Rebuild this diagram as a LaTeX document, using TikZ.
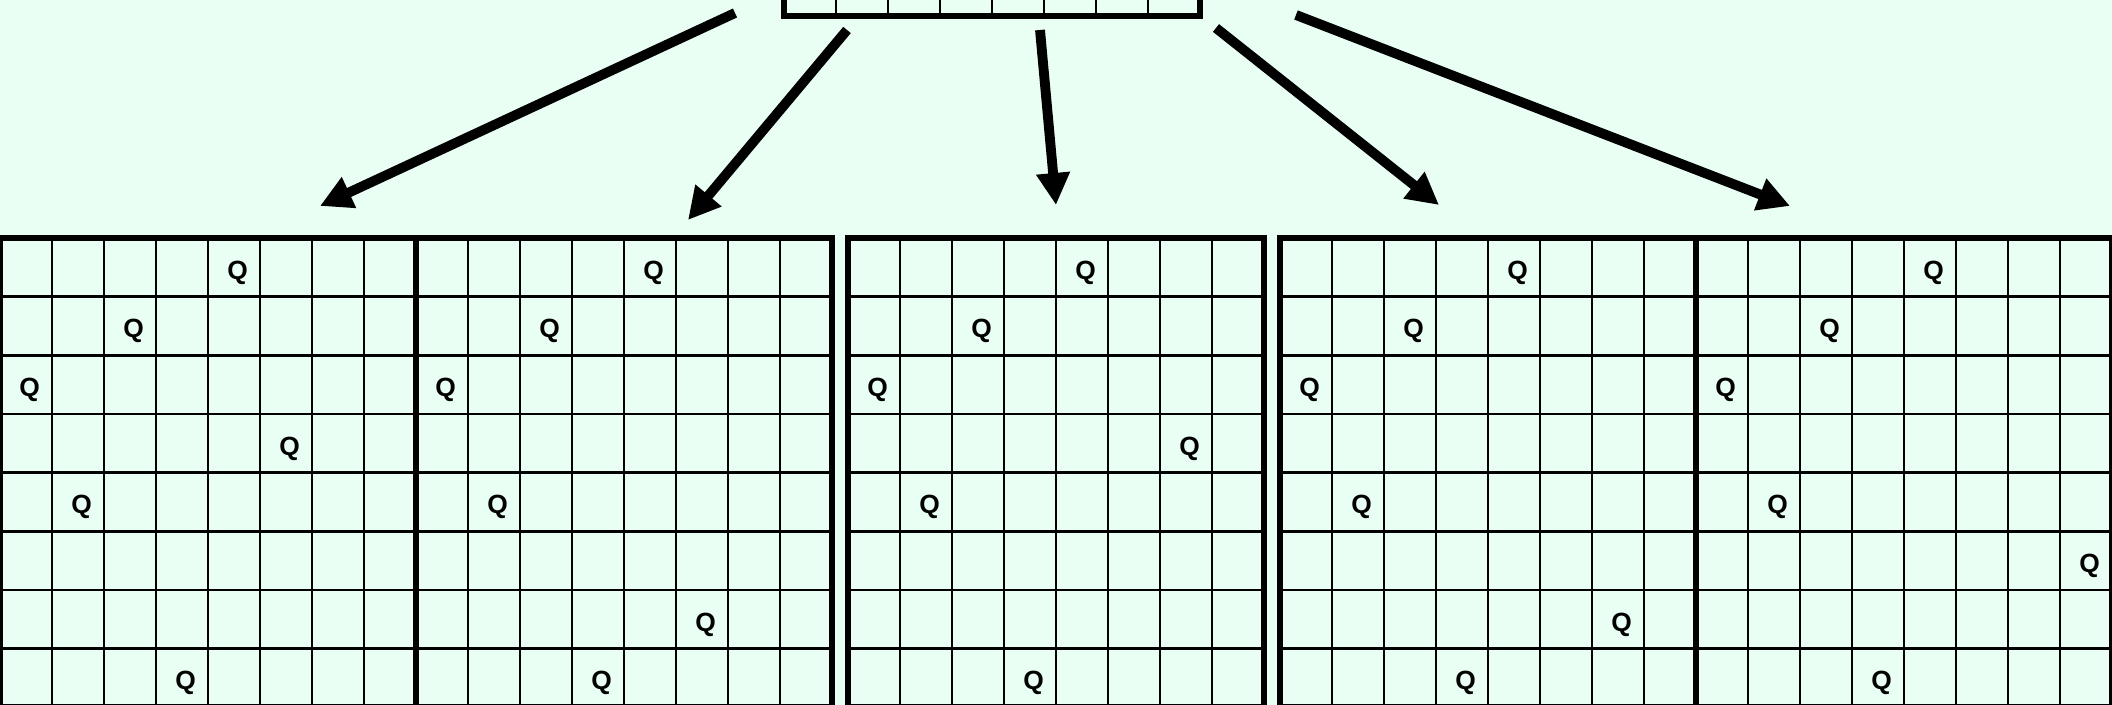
\documentclass[tikz,border=0pt]{standalone}
\usepackage{fontspec}
\newfontfamily\queenfont{Liberation Sans}
\usetikzlibrary{arrows.meta,calc}
\definecolor{bgmint}{HTML}{E9FFF4}

\begin{document}
\begin{tikzpicture}[
  x=0.02cm,y=-0.02cm,
  board/.style={draw, line width=3.2pt, minimum width=8.32cm, minimum height=9.384cm, inner sep=0pt, outer sep=0pt},
  vec/.style={draw, line width=3.2pt, minimum width=8.32cm, minimum height=1.173cm, inner sep=0pt, outer sep=0pt},
  cell/.style={line width=1.5pt},
  queen/.style={font=\queenfont\bfseries\fontsize{15}{18}\selectfont, inner sep=0pt},
  arr/.style={-{Triangle[length=0.64cm,width=0.64cm]}, line width=5.6pt}
]
\clip (0,0) rectangle (2112,705);
\fill[bgmint] (0,0) rectangle (2112,705);
\node[vec] (row) at (992,-13.3) {};
\foreach \i in {1,...,7}{\draw[cell] ($(row.north west)+(52*\i,0)$) -- ($(row.south west)+(52*\i,0)$);}
\foreach \b/\bx in {1/0,2/416,3/848,4/1280,5/1696}{
  \node[board] (b\b) at ({\bx+208},472.6) {};
  \foreach \i in {1,...,7}{
    \draw[cell] ($(b\b.north west)+(52*\i,0)$) -- ($(b\b.south west)+(52*\i,0)$);
    \draw[cell] ($(b\b.north west)+(0,58.65*\i)$) -- ($(b\b.north east)+(0,58.65*\i)$);
  }
}
\foreach \b in {1,...,5}
  \foreach \r/\c in {0/4,1/2,2/0,4/1,7/3}
    \node[queen] (q\b\r) at ($(b\b.north west)+(52*\c+29.5,58.65*\r+34.5)$) {Q};
\foreach \b/\r/\c in {1/3/5,2/6/5,3/3/6,4/6/6,5/5/7}
  \node[queen] (q\b\r) at ($(b\b.north west)+(52*\c+29.5,58.65*\r+34.5)$) {Q};
\coordinate (s1) at (735,13);
\coordinate (s2) at (847,30);
\coordinate (s3) at (1040,30);
\coordinate (s4) at (1216,28);
\coordinate (s5) at (1296,15);
\coordinate (t1) at (320,206);
\coordinate (t2) at (688,220);
\coordinate (t3) at (1056,205);
\coordinate (t4) at (1439,205);
\coordinate (t5) at (1790,206);
\foreach \a in {1,...,5}{\draw[arr] (s\a) -- (t\a);}
\end{tikzpicture}
\end{document}
